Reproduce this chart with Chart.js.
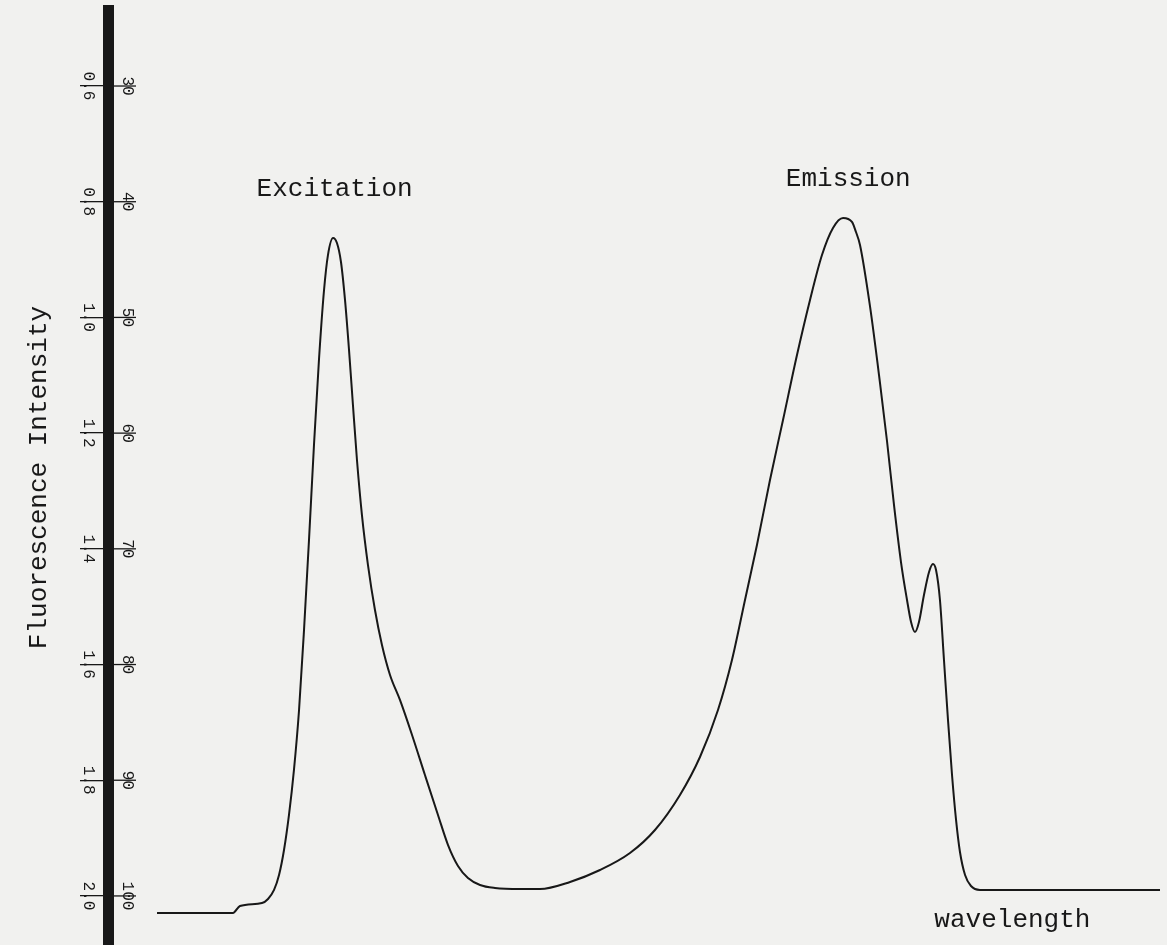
<!DOCTYPE html>
<html>
<head>
<meta charset="utf-8">
<script src="https://cdn.jsdelivr.net/npm/chart.js@4"></script>
<style>
html,body{margin:0;padding:0;background:#f1f1ef;}
#wrap{width:1167px;height:945px;position:relative;}
</style>
</head>
<body>
<div id="wrap"><canvas id="c"></canvas></div>
<script>
// Recorder position along the wavelength sweep (chart divisions, 0-100)
const wavelengthPos = [
  4.63, 11.80, 12.46, 14.54, 15.11, 15.68, 16.15, 16.62, 17.09, 17.56, 18.04, 18.51, 18.98, 19.45,
  19.92, 20.40, 20.77, 21.25, 21.62, 22.00, 22.38, 22.76, 23.13, 23.51, 23.98, 24.55, 25.21, 25.87,
  26.63, 27.57, 28.71, 29.93, 31.16, 32.11, 33.05, 33.99, 35.13, 36.54, 38.90, 40.79,
  43.63, 46.46, 49.29, 51.65, 54.01, 55.90, 57.60, 58.92, 60.15, 61.28, 62.51, 63.74, 65.06, 66.29,
  67.42, 68.46, 69.41, 70.25, 70.63, 71.01, 71.95, 72.90, 73.56, 74.22, 74.88, 75.45, 75.83, 76.20,
  76.58, 77.05, 77.53, 77.90, 78.19, 78.56, 78.94, 79.32, 79.70, 80.08, 80.45, 80.93, 81.49, 82.34,
  84.23, 99.34
];
// Pen reading on the recorder scale (30 at top ... 100 at bottom)
const intensity = [
  101.47, 101.47, 100.87, 100.61, 100.26, 99.48, 98.19, 96.03, 93.00, 89.11, 83.93, 77.01, 69.24, 61.03,
  53.68, 47.63, 44.61, 43.14, 43.57, 45.21, 48.49, 52.82, 57.57, 62.32, 67.08, 71.40, 75.29, 78.31,
  80.90, 83.06, 86.09, 89.55, 93.00, 95.60, 97.41, 98.45, 99.05, 99.31, 99.40, 99.40,
  98.79, 97.76, 96.29, 94.30, 91.27, 87.99, 83.93, 79.61, 74.42, 69.67, 64.05, 58.87, 53.25, 48.49,
  44.61, 42.27, 41.41, 41.75, 42.62, 43.74, 49.01, 55.67, 60.68, 66.21, 71.14, 74.42, 76.32, 77.19,
  76.32, 73.99, 72.00, 71.31, 71.83, 74.42, 79.61, 84.79, 89.55, 93.43, 96.20, 98.19, 99.14, 99.48,
  99.48, 99.48
];
const scaleTicks = [30, 40, 50, 60, 70, 80, 90, 100];
const rightTickLabels = ['30', '40', '50', '60', '70', '80', '90', '100'];
const leftTickLabels = ['0.6', '0.8', '1.0', '1.2', '1.4', '1.6', '1.8', '2.0'];
const noteTexts = ['Excitation', 'Emission', 'wavelength'];
const notePosX = [21.4, 69.9, 85.4];
const notePosY = [39.5, 38.6, 102.7];

const points = wavelengthPos.map((x, i) => ({x: x, y: intensity[i]}));
const INK = '#181818';
const MONO = "'Liberation Mono', 'DejaVu Sans Mono', monospace";

const recorderPlugin = {
  id: 'recorder',
  afterDraw(chart) {
    const ctx = chart.ctx;
    const ys = chart.scales.y, xs = chart.scales.x;
    const left = chart.chartArea.left;
    ctx.save();
    ctx.strokeStyle = INK;
    ctx.lineWidth = 1.3;
    ctx.fillStyle = INK;
    ctx.font = '16px ' + MONO;
    scaleTicks.forEach((v, i) => {
      const py = ys.getPixelForValue(v);
      ctx.beginPath();
      ctx.moveTo(left, py);
      ctx.lineTo(left + 28, py);
      ctx.stroke();
      ctx.save();
      ctx.translate(left + 19, py);
      ctx.rotate(Math.PI / 2);
      ctx.textAlign = 'center';
      ctx.textBaseline = 'middle';
      ctx.fillText(rightTickLabels[i], 0, 0);
      ctx.restore();
      ctx.save();
      ctx.translate(left - 20, py);
      ctx.rotate(Math.PI / 2);
      ctx.textAlign = 'center';
      ctx.textBaseline = 'middle';
      ctx.fillText(leftTickLabels[i], 0, 0);
      ctx.restore();
    });
    ctx.font = '26px ' + MONO;
    ctx.textAlign = 'center';
    ctx.textBaseline = 'alphabetic';
    noteTexts.forEach((t, i) => {
      ctx.fillText(t, xs.getPixelForValue(notePosX[i]), ys.getPixelForValue(notePosY[i]));
    });
    ctx.restore();
  }
};

new Chart(document.getElementById('c'), {
  type: 'line',
  data: {
    datasets: [{
      data: points,
      borderColor: INK,
      borderWidth: 2,
      pointRadius: 0,
      fill: false,
      cubicInterpolationMode: 'monotone'
    }]
  },
  options: {
    responsive: true,
    maintainAspectRatio: false,
    animation: false,
    layout: {padding: {top: 10, right: 0, bottom: 0, left: 0}},
    plugins: {legend: {display: false}, tooltip: {enabled: false}},
    scales: {
      x: {type: 'linear', min: 0, max: 100, display: false},
      y: {
        type: 'linear',
        position: 'left',
        reverse: true,
        min: 23.43,
        max: 104.24,
        afterFit: s => { s.width = 108; },
        afterBuildTicks: s => { s.ticks = scaleTicks.map(v => ({value: v})); },
        ticks: {display: false},
        grid: {drawOnChartArea: false, drawTicks: true, tickLength: 28, color: INK, lineWidth: 1.3},
        border: {display: true, color: INK, width: 11},
        title: {
          display: true,
          text: 'Fluorescence Intensity',
          color: INK,
          font: {family: MONO, size: 26},
          padding: {top: 24, bottom: 0}
        }
      }
    }
  },
  plugins: [recorderPlugin]
});
</script>
</body>
</html>
